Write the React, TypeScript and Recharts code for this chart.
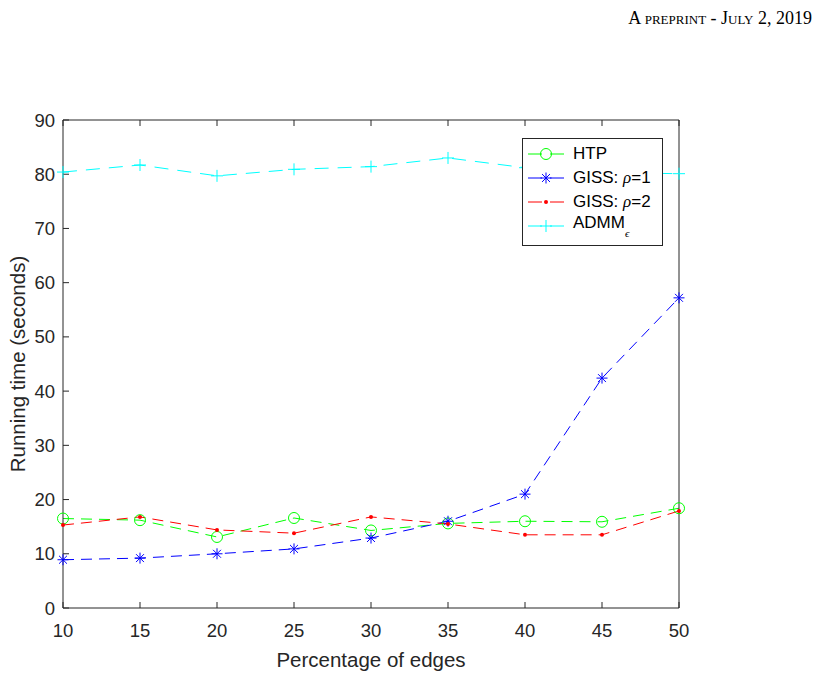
import React from "react";
import { Line, LineChart, XAxis, YAxis } from "recharts";

// percentage of edges on the x axis
const edgePercent = [10, 15, 20, 25, 30, 35, 40, 45, 50];

// running time in seconds per method
const htpTime = [16.5, 16.2, 13.1, 16.6, 14.3, 15.6, 16.0, 15.9, 18.4];
const giss1Time = [8.9, 9.2, 10.0, 10.9, 12.9, 16.0, 21.0, 42.4, 57.2];
const giss2Time = [15.3, 16.8, 14.4, 13.8, 16.8, 15.5, 13.5, 13.5, 17.9];
const admmTime = [80.4, 81.7, 79.7, 80.9, 81.4, 83.0, 81.2, 80.3, 80.1];

const xTicks = [10, 15, 20, 25, 30, 35, 40, 45, 50];
const yTicks = [0, 10, 20, 30, 40, 50, 60, 70, 80, 90];

const rows = edgePercent.map((pct, i) => ({
  pct,
  htp: htpTime[i],
  giss1: giss1Time[i],
  giss2: giss2Time[i],
  admm: admmTime[i],
}));

const GREEN = "#00ff00";
const BLUE = "#0000ff";
const RED = "#ff0000";
const CYAN = "#00ffff";
const AXIS = "#262626";
const FONT = "'Liberation Sans', Arial, sans-serif";
const DASH = "11 7";

type MarkerKind = "circle" | "star" | "dot" | "plus";

function Marker({ kind, cx, cy, color }: { kind: MarkerKind; cx: number; cy: number; color: string }) {
  if (kind === "circle") {
    return <circle cx={cx} cy={cy} r={5.5} fill="none" stroke={color} strokeWidth={1} />;
  }
  if (kind === "dot") {
    return <circle cx={cx} cy={cy} r={2} fill={color} stroke="none" />;
  }
  if (kind === "plus") {
    const s = 6;
    return (
      <g stroke={color} strokeWidth={1}>
        <line x1={cx - s} y1={cy} x2={cx + s} y2={cy} />
        <line x1={cx} y1={cy - s} x2={cx} y2={cy + s} />
      </g>
    );
  }
  const s = 5.5;
  const d = s * 0.72;
  return (
    <g stroke={color} strokeWidth={1}>
      <line x1={cx - s} y1={cy} x2={cx + s} y2={cy} />
      <line x1={cx} y1={cy - s} x2={cx} y2={cy + s} />
      <line x1={cx - d} y1={cy - d} x2={cx + d} y2={cy + d} />
      <line x1={cx - d} y1={cy + d} x2={cx + d} y2={cy - d} />
    </g>
  );
}

const markerDot = (kind: MarkerKind, color: string) => (props: any) => (
  <Marker key={`${kind}-${props.index}`} kind={kind} cx={props.cx} cy={props.cy} color={color} />
);

const rho = { fontFamily: "'Liberation Serif', serif", fontStyle: "italic" } as const;

const legendItems: { kind: MarkerKind; color: string; label: React.ReactNode }[] = [
  { kind: "circle", color: GREEN, label: "HTP" },
  { kind: "star", color: BLUE, label: <>GISS: <span style={rho}>ρ</span>=1</> },
  { kind: "dot", color: RED, label: <>GISS: <span style={rho}>ρ</span>=2</> },
  {
    kind: "plus",
    color: CYAN,
    label: (
      <>
        ADMM<sub style={{ ...rho, fontSize: 11, verticalAlign: -9 }}>ϵ</sub>
      </>
    ),
  },
];

function LegendBox() {
  return (
    <div
      style={{
        position: "absolute",
        left: 522,
        top: 138,
        boxSizing: "border-box",
        width: 141,
        height: 108,
        border: `1px solid ${AXIS}`,
        background: "#fff",
        paddingTop: 3,
        fontFamily: FONT,
        fontSize: 17,
        color: "#000",
      }}
    >
      {legendItems.map((item) => (
        <div key={item.color} style={{ display: "flex", alignItems: "center", height: 24 }}>
          <svg width={50} height={20} style={{ flex: "none" }}>
            <line x1={5} y1={10} x2={41} y2={10} stroke={item.color} strokeWidth={1} strokeDasharray="14 8" />
            <Marker kind={item.kind} cx={23} cy={10} color={item.color} />
          </svg>
          <span style={{ whiteSpace: "nowrap" }}>{item.label}</span>
        </div>
      ))}
    </div>
  );
}

function YTitle(props: any) {
  const vb = props.viewBox;
  const x = vb.x + 17;
  const y = vb.y + vb.height / 2;
  return (
    <text
      x={x}
      y={y}
      transform={`rotate(-90 ${x} ${y})`}
      textAnchor="middle"
      dominantBaseline="central"
      fontFamily={FONT}
      fontSize={20.5}
      fill={AXIS}
    >
      Running time (seconds)
    </text>
  );
}

function XTitle(props: any) {
  const vb = props.viewBox;
  return (
    <text
      x={vb.x + vb.width / 2}
      y={vb.y + 59}
      textAnchor="middle"
      fontFamily={FONT}
      fontSize={20.5}
      fill={AXIS}
    >
      Percentage of edges
    </text>
  );
}

const tickStyle = { fontFamily: FONT, fontSize: 18.5, fill: AXIS };

export default function App() {
  return (
    <div style={{ position: "absolute", left: 0, top: 0, width: 831, height: 676, background: "#fff" }}>
      <div
        style={{
          position: "absolute",
          right: 19,
          top: 8,
          fontFamily: "'Liberation Serif', 'Times New Roman', serif",
          fontSize: 18,
          fontVariant: "small-caps",
          color: "#000",
        }}
      >
        A preprint - July 2, 2019
      </div>
      <LineChart width={831} height={676} data={rows} margin={{ top: 119, right: 151, bottom: 0, left: 0 }}>
        <XAxis
          dataKey="pct"
          type="number"
          domain={[10, 50]}
          ticks={xTicks}
          height={68}
          stroke={AXIS}
          tickSize={-6}
          tickMargin={22}
          tick={tickStyle}
          label={<XTitle />}
        />
        <XAxis
          xAxisId="top"
          orientation="top"
          dataKey="pct"
          type="number"
          domain={[10, 50]}
          ticks={xTicks}
          height={1}
          stroke={AXIS}
          tickSize={-6}
          tickFormatter={() => ""}
        />
        <YAxis
          type="number"
          domain={[0, 90]}
          ticks={yTicks}
          width={63}
          stroke={AXIS}
          tickSize={-6}
          tickMargin={14}
          tick={tickStyle}
          label={<YTitle />}
        />
        <YAxis
          yAxisId="right"
          orientation="right"
          type="number"
          domain={[0, 90]}
          ticks={yTicks}
          width={1}
          stroke={AXIS}
          tickSize={-6}
          tickFormatter={() => ""}
        />
        <Line dataKey="htp" stroke={GREEN} strokeWidth={1} strokeDasharray={DASH} dot={markerDot("circle", GREEN)} activeDot={false} isAnimationActive={false} />
        <Line dataKey="giss1" stroke={BLUE} strokeWidth={1} strokeDasharray={DASH} dot={markerDot("star", BLUE)} activeDot={false} isAnimationActive={false} />
        <Line dataKey="giss2" stroke={RED} strokeWidth={1} strokeDasharray={DASH} dot={markerDot("dot", RED)} activeDot={false} isAnimationActive={false} />
        <Line dataKey="admm" stroke={CYAN} strokeWidth={1} strokeDasharray="14 9" dot={markerDot("plus", CYAN)} activeDot={false} isAnimationActive={false} />
      </LineChart>
      <LegendBox />
    </div>
  );
}
